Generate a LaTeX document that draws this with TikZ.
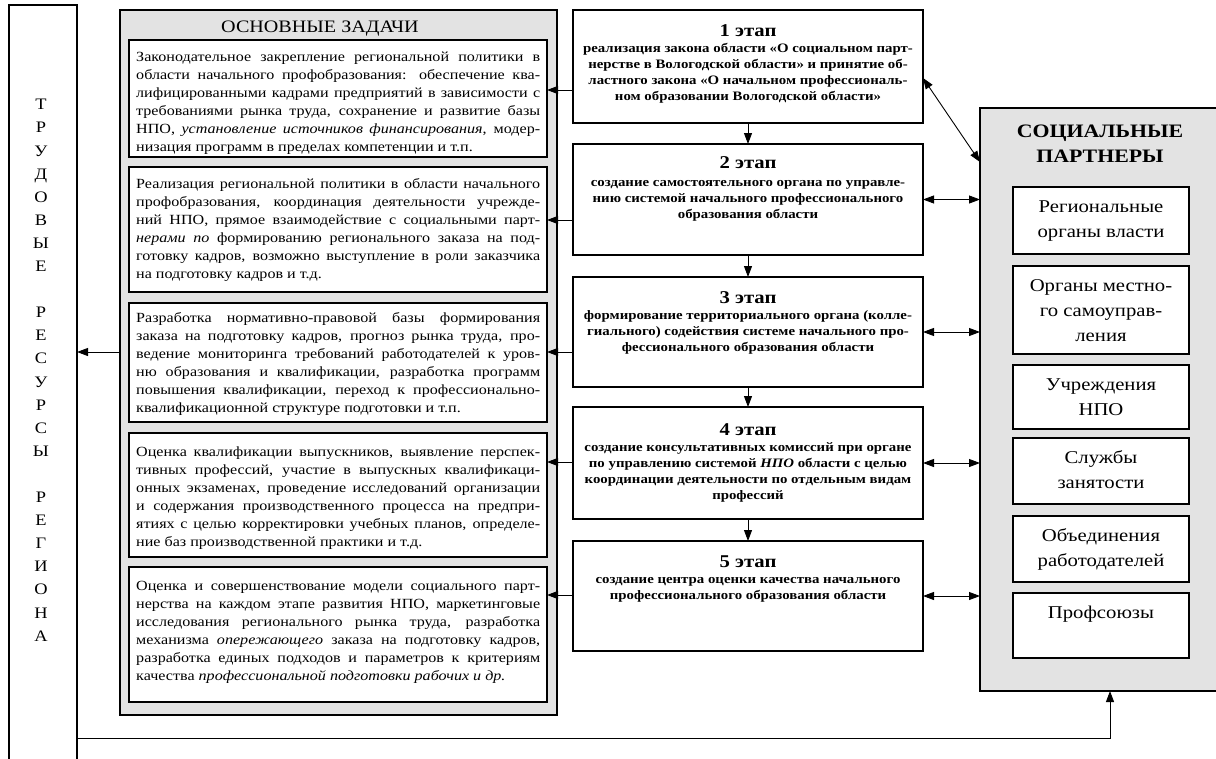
\documentclass[tikz,border=0pt]{standalone}
\usepackage{fontspec}
\setmainfont{Liberation Serif}[FakeStretch=1.15]
\usetikzlibrary{arrows.meta}
\newcommand{\jl}[1]{\makebox[404pt][s]{#1}}
\newcommand{\lastl}[1]{\makebox[404pt][l]{#1}}
\tikzset{
  bx/.style={draw, line width=1.1pt, fill=white, inner sep=0, outer sep=0, anchor=north west},
  grayb/.style={draw, line width=1.1pt, fill=black!11, inner sep=0, outer sep=0, anchor=north west},
  oztxt/.style={font=\fontsize{14}{18}\selectfont, align=left, inner sep=0, anchor=north west},
  sttl/.style={font=\bfseries\fontsize{18}{20}\selectfont, inner sep=0, anchor=north},
  sbody/.style={font=\bfseries\fontsize{12.9}{15.8}\selectfont, align=center, inner sep=0, anchor=north},
  ptxt/.style={font=\fontsize{18}{25}\selectfont, align=center, inner sep=0, anchor=north},
  arr/.style={-{Triangle[length=11pt,width=8pt]}, line width=0.9pt},
  darr/.style={{Triangle[length=11pt,width=8pt]}-{Triangle[length=11pt,width=8pt]}, line width=0.9pt},
}
\begin{document}
\begin{tikzpicture}[x=1pt,y=-1pt]
\useasboundingbox (0,0) rectangle (1216,758);
\clip (0,0) rectangle (1216,758);

% left column
\node[bx, minimum width=68, minimum height=790] (trud) at (9,5) {};
\node[font=\fontsize{16}{23.1}\selectfont, align=center, inner sep=0, anchor=north] (trudt) at (41,93.5)
 {\strut Т\\Р\\У\\Д\\О\\В\\Ы\\Е\\\mbox{}\\Р\\Е\\С\\У\\Р\\С\\Ы\\\mbox{}\\Р\\Е\\Г\\И\\О\\Н\\А};

% main tasks
\node[grayb, minimum width=437, minimum height=705] (oz) at (120,10) {};
\node[font=\fontsize{17.5}{20}\selectfont, inner sep=0, anchor=north] (ozt) at (320,18.5) {\strut ОСНОВНЫЕ ЗАДАЧИ};

\node[bx, minimum width=418, minimum height=117] (z1) at (129,40) {};
\node[bx, minimum width=418, minimum height=125] (z2) at (129,167) {};
\node[bx, minimum width=418, minimum height=119] (z3) at (129,303) {};
\node[bx, minimum width=418, minimum height=124] (z4) at (129,433) {};
\node[bx, minimum width=418, minimum height=135] (z5) at (129,567) {};

\node[oztxt] (z1t) at (136,48.4) {\strut\jl{Законодательное закрепление региональной политики в}\\
\jl{области начального профобразования: обеспечение ква-}\\
\jl{лифицированными кадрами предприятий в зависимости с}\\
\jl{требованиями рынка труда, сохранение и развитие базы}\\
\jl{НПО, \textit{установление источников финансирования}, модер-}\\
\lastl{низация программ в пределах компетенции и т.п.}};

\node[oztxt] (z2t) at (136,175.4) {\strut\jl{Реализация региональной политики в области начального}\\
\jl{профобразования, координация деятельности учрежде-}\\
\jl{ний НПО, прямое взаимодействие с социальными парт-}\\
\jl{\textit{нерами по} формированию регионального заказа на под-}\\
\jl{готовку кадров, возможно выступление в роли заказчика}\\
\lastl{на подготовку кадров и т.д.}};

\node[oztxt] (z3t) at (136,309.4) {\strut\jl{Разработка нормативно-правовой базы формирования}\\
\jl{заказа на подготовку кадров, прогноз рынка труда, про-}\\
\jl{ведение мониторинга требований работодателей к уров-}\\
\jl{ню образования и квалификации, разработка программ}\\
\jl{повышения квалификации, переход к профессионально-}\\
\lastl{квалификационной структуре подготовки и т.п.}};

\node[oztxt] (z4t) at (136,443.4) {\strut\jl{Оценка квалификации выпускников, выявление перспек-}\\
\jl{тивных профессий, участие в выпускных квалификаци-}\\
\jl{онных экзаменах, проведение исследований организации}\\
\jl{и содержания производственного процесса на предпри-}\\
\jl{ятиях с целью корректировки учебных планов, определе-}\\
\lastl{ние баз производственной практики и т.д.}};

\node[oztxt] (z5t) at (136,577.4) {\strut\jl{Оценка и совершенствование модели социального парт-}\\
\jl{нерства на каждом этапе развития НПО, маркетинговые}\\
\jl{исследования регионального рынка труда, разработка}\\
\jl{механизма \textit{опережающего} заказа на подготовку кадров,}\\
\jl{разработка единых подходов и параметров к критериям}\\
\lastl{качества \textit{профессиональной подготовки рабочих и др.}}};

% stages
\node[bx, minimum width=350, minimum height=113] (s1) at (573,10) {};
\node[bx, minimum width=350, minimum height=111] (s2) at (573,144) {};
\node[bx, minimum width=350, minimum height=110] (s3) at (573,277) {};
\node[bx, minimum width=350, minimum height=112] (s4) at (573,407) {};
\node[bx, minimum width=350, minimum height=110] (s5) at (573,541) {};

\node[sttl] (s1t) at (748,22) {\strut 1 этап};
\node[sbody] (s1b) at (748,41.4) {\strut реализация закона области «О социальном парт-\\
нерстве в Вологодской области» и принятие об-\\
ластного закона «О начальном профессиональ-\\
ном образовании Вологодской области»};

\node[sttl] (s2t) at (748,154) {\strut 2 этап};
\node[sbody] (s2b) at (748,175.4) {\strut создание самостоятельного органа по управле-\\
нию системой начального профессионального\\
образования области};

\node[sttl] (s3t) at (748,289) {\strut 3 этап};
\node[sbody] (s3b) at (748,308.4) {\strut формирование территориального органа (колле-\\
гиального) содействия системе начального про-\\
фессионального образования области};

\node[sttl] (s4t) at (748,421) {\strut 4 этап};
\node[sbody] (s4b) at (748,440.4) {\strut создание консультативных комиссий при органе\\
по управлению системой \textit{НПО} области с целью\\
координации деятельности по отдельным видам\\
профессий};

\node[sttl] (s5t) at (748,553) {\strut 5 этап};
\node[sbody] (s5b) at (748,572.4) {\strut создание центра оценки качества начального\\
профессионального образования области};

% social partners
\node[grayb, minimum width=260, minimum height=583] (sp) at (980,108) {};
\node[font=\bfseries\fontsize{19}{25}\selectfont, align=center, inner sep=0, anchor=north] (spt) at (1100,119.5) {\strut СОЦИАЛЬНЫЕ\\ПАРТНЕРЫ};

\node[bx, minimum width=176, minimum height=67] (p1) at (1013,187) {};
\node[bx, minimum width=176, minimum height=88] (p2) at (1013,266) {};
\node[bx, minimum width=176, minimum height=64] (p3) at (1013,365) {};
\node[bx, minimum width=176, minimum height=66] (p4) at (1013,438) {};
\node[bx, minimum width=176, minimum height=66] (p5) at (1013,516) {};
\node[bx, minimum width=176, minimum height=65] (p6) at (1013,593) {};

\node[ptxt] (p1t) at (1101,194.5) {\strut Региональные\\органы власти};
\node[ptxt] (p2t) at (1101,273.5) {\strut Органы местно-\\го самоуправ-\\ления};
\node[ptxt] (p3t) at (1101,372.5) {\strut Учреждения\\НПО};
\node[ptxt] (p4t) at (1101,445.5) {\strut Службы\\занятости};
\node[ptxt] (p5t) at (1101,523.5) {\strut Объединения\\работодателей};
\node[ptxt] (p6t) at (1101,600.5) {\strut Профсоюзы};

% connectors
\draw[arr] (s1) -- (s2);
\draw[arr] (s2) -- (s3);
\draw[arr] (s3) -- (s4);
\draw[arr] (s4) -- (s5);

\draw[arr] (s1.west |- 0,90) -- (z1.east |- 0,90);
\draw[arr] (s2.west |- 0,220) -- (z2.east |- 0,220);
\draw[arr] (s3.west |- 0,352) -- (z3.east |- 0,352);
\draw[arr] (s4.west |- 0,462) -- (z4.east |- 0,462);
\draw[arr] (s5.west |- 0,595) -- (z5.east |- 0,595);

\draw[darr] (s1.east |- 0,78) -- (sp.west |- 0,162);
\draw[darr] (s2.east) -- (s2.east -| sp.west);
\draw[darr] (s3.east) -- (s3.east -| sp.west);
\draw[darr] (s4.east) -- (s4.east -| sp.west);
\draw[darr] (s5.east) -- (s5.east -| sp.west);

\draw[arr] (oz.west |- 0,352) -- (trud.east |- 0,352);
\draw[arr] (trud.east |- 0,738) -| (sp.south);
\end{tikzpicture}
\end{document}
